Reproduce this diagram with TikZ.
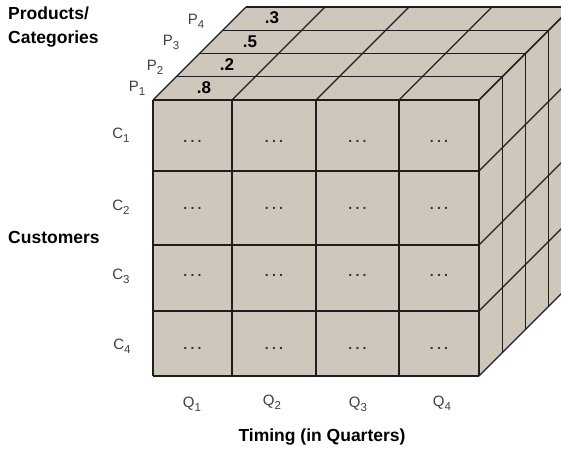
\documentclass[tikz,border=0pt]{standalone}
\usepackage{fontspec}
\setmainfont{Liberation Sans}
\definecolor{cubefill}{RGB}{208,199,188}
\definecolor{linecol}{RGB}{30,30,30}
\newcommand{\sublab}[2]{#1\raisebox{-4pt}{\fontsize{11.5}{11.5}\selectfont #2}}
\tikzset{
  cubeline/.style={draw=linecol, line width=1.2pt},
  axislab/.style={font=\bfseries\fontsize{17.5}{17.5}\selectfont, inner sep=0pt},
  smalllab/.style={font=\fontsize{15}{15}\selectfont, text=black!75, inner sep=0pt},
  vallab/.style={font=\bfseries\fontsize{17}{17}\selectfont, inner sep=0pt},
  dotlab/.style={font=\bfseries\fontsize{14}{14}\selectfont, text=black!80, inner sep=0pt, anchor=base}
}
\newcommand{\celldots}{.\hspace{3.2pt}.\hspace{3.2pt}.}
\begin{document}
\begin{tikzpicture}[x=1pt,y=-1pt]
\useasboundingbox (0,0) rectangle (561,450);
\def\d{23.25}
\begin{scope}
\clip (0,0) rectangle (561,450);
% faces
\fill[cubefill] (153,100) -- (479,100) -- (479+4*\d,100-4*\d) -- (153+4*\d,100-4*\d) -- cycle;
\fill[cubefill] (479,100) -- (479+4*\d,100-4*\d) -- (479+4*\d,376-4*\d) -- (479,376) -- cycle;
\fill[cubefill] (153,100) rectangle (479,376);
% front grid
\foreach \x in {153,232,316,399,479} \draw[cubeline] (\x,100) -- (\x,376);
\foreach \y in {100,171,245,311,376} \draw[cubeline] (153,\y) -- (479,\y);
% top face
\foreach \k in {1,2,3,4} \draw[cubeline] (153+\k*\d,100-\k*\d) -- (479+\k*\d,100-\k*\d);
\foreach \x in {153,232,316,399,479} \draw[cubeline] (\x,100) -- (\x+4*\d,100-4*\d);
% right face
\foreach \k in {1,2,3,4} \draw[cubeline] (479+\k*\d,100-\k*\d) -- (479+\k*\d,376-\k*\d);
\foreach \y in {100,171,245,311,376} \draw[cubeline] (479,\y) -- (479+4*\d,\y-4*\d);
\end{scope}
% dots in cells
\foreach \x in {192.5,274,357.5,439} {
  \foreach \y in {142,209,276,349} {
    \node[dotlab] at (\x,\y) {\celldots};
  }
}
% values
\node[vallab] (v1) at (204,88) {.8};
\node[vallab] (v2) at (227,65) {.2};
\node[vallab] (v3) at (250,42) {.5};
\node[vallab] (v4) at (272,18) {.3};
% P labels
\node[smalllab] (p1) at (137,88) {\sublab{P}{1}};
\node[smalllab] (p2) at (155,67) {\sublab{P}{2}};
\node[smalllab] (p3) at (171,42) {\sublab{P}{3}};
\node[smalllab] (p4) at (196,21) {\sublab{P}{4}};
% C labels
\node[smalllab] (c1) at (121,135) {\sublab{C}{1}};
\node[smalllab] (c2) at (121,207) {\sublab{C}{2}};
\node[smalllab] (c3) at (121,276) {\sublab{C}{3}};
\node[smalllab] (c4) at (122,346) {\sublab{C}{4}};
% Q labels
\node[smalllab] (q1) at (192,404) {\sublab{Q}{1}};
\node[smalllab] (q2) at (272,402) {\sublab{Q}{2}};
\node[smalllab] (q3) at (358,404) {\sublab{Q}{3}};
\node[smalllab] (q4) at (442,403) {\sublab{Q}{4}};
% axis labels
\node[axislab, anchor=west] (prod) at (8,13) {Products/};
\node[axislab, anchor=west] (cat) at (8,39) {Categories};
\node[axislab, anchor=west] (cust) at (8,237) {Customers};
\node[axislab] (timing) at (322,437) {Timing (in Quarters)};
\end{tikzpicture}
\end{document}
